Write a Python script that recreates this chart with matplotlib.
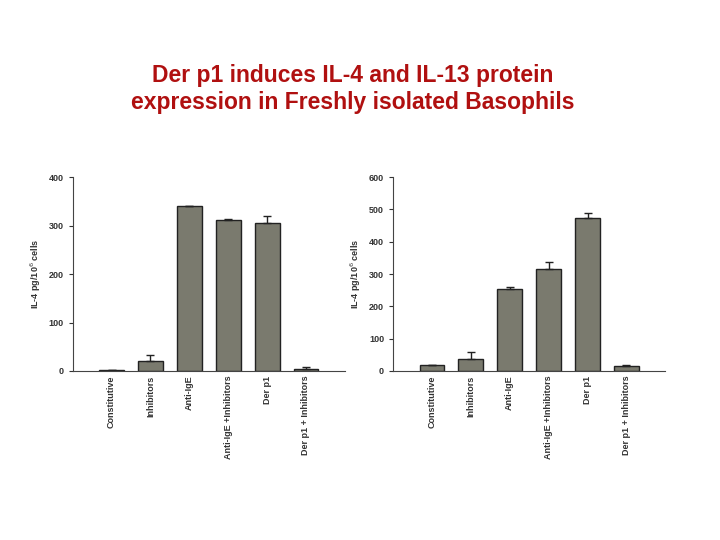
import matplotlib
matplotlib.use("Agg")
import matplotlib.pyplot as plt

categories = ["Constitutive", "Inhibitors", "Anti-IgE", "Anti-IgE +Inhibitors", "Der p1", "Der p1 + Inhibitors"]
il4_left = [2, 20, 340, 311, 305, 5]
err_left = [1, 12, 1, 2, 15, 4]
il4_right = [18, 38, 255, 317, 472, 14]
err_right = [2, 22, 5, 20, 17, 5]
ylabel = "IL-4 pg/10$^6$ cells"

plt.rcParams['font.family'] = ['Liberation Sans', 'DejaVu Sans']
fig = plt.figure(figsize=(7.2, 5.4), dpi=100)
fig.text(0.49, 0.861, "Der p1 induces IL-4 and IL-13 protein", ha='center', va='center', fontsize=16.5, fontweight='bold', color='#b01010')
fig.text(0.49, 0.811, "expression in Freshly isolated Basophils", ha='center', va='center', fontsize=16.5, fontweight='bold', color='#b01010')

def panel(rect, vals, errs, ymax, step):
    ax = fig.add_axes(rect)
    x = list(range(len(categories)))
    ax.bar(x, vals, width=0.64, color='#7a7a6e', edgecolor='#222222', linewidth=1)
    ax.errorbar(x, vals, yerr=[[0]*len(errs), errs], fmt='none', ecolor='#222222', elinewidth=1, capsize=3)
    ax.set_xlim(-1, 6)
    ax.set_ylim(0, ymax)
    ax.set_yticks(range(0, ymax + 1, step))
    ax.set_xticks(x)
    ax.set_xticklabels(categories, rotation=90, fontsize=6.5, fontweight='bold', color='#333333')
    ax.tick_params(axis='y', labelsize=6.5, colors='#333333', length=3)
    ax.tick_params(axis='x', length=0)
    ax.spines['top'].set_visible(False)
    ax.spines['right'].set_visible(False)
    ax.spines['left'].set_color('#444444')
    ax.spines['bottom'].set_color('#444444')
    ax.set_ylabel(ylabel, fontsize=6.5, fontweight='bold', color='#333333')
    for lab in ax.get_yticklabels():
        lab.set_fontweight('bold')
    return ax

panel([0.101, 0.313, 0.378, 0.359], il4_left, err_left, 400, 100)
panel([0.546, 0.313, 0.378, 0.359], il4_right, err_right, 600, 100)
fig.savefig("out.png", dpi=100)
